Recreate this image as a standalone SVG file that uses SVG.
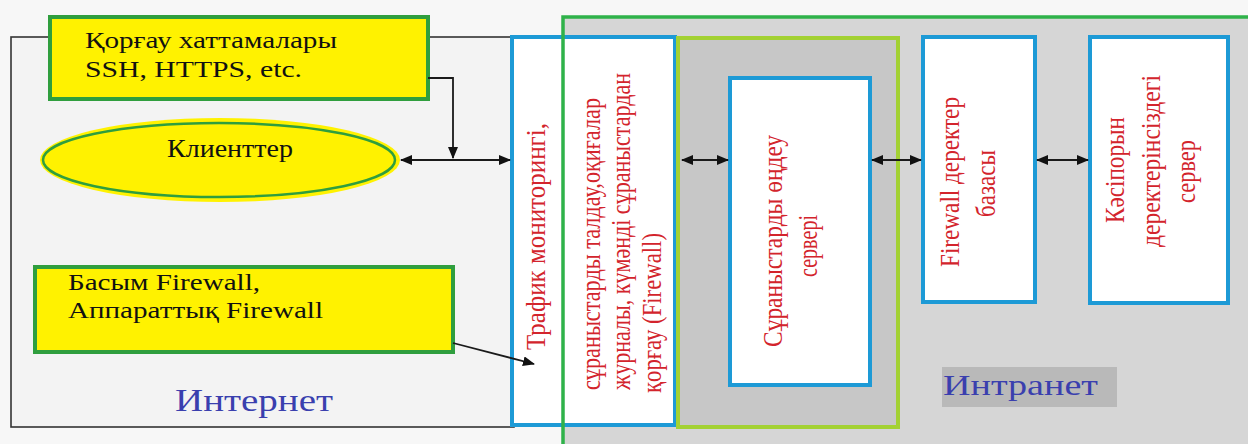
<svg xmlns="http://www.w3.org/2000/svg" width="1248" height="444" viewBox="0 0 1248 444">
<style>
.serif{font-family:"Liberation Serif","Times New Roman","DejaVu Serif",serif;}
.blk{fill:#111;}
.red{fill:#d3242c;}
.blu{fill:#3a3fae;}
.ybox{fill:#fff200;stroke:#2f9e3e;stroke-width:4;}
.bbox{fill:#ffffff;stroke:#1d9ad6;stroke-width:4;}
.conn{stroke:#1a1a1a;stroke-width:1.8;fill:none;}
.rot{font-size:27px;}
</style>
<defs>
<marker id="ah" viewBox="0 0 12 10" refX="11" refY="5" markerWidth="12" markerHeight="10" markerUnits="userSpaceOnUse" orient="auto-start-reverse">
<path d="M0,0 L12,5 L0,10 Z" fill="#111"/>
</marker>
</defs>
<rect x="0" y="0" width="1248" height="444" fill="#f7f7f7"/>

<g id="internet">
<rect x="11" y="37" width="503" height="390" fill="#f3f3f3" stroke="#333" stroke-width="1.6"/>
<text class="serif blu" x="175" y="411" font-size="31" textLength="158" lengthAdjust="spacingAndGlyphs">Интернет</text>
</g>

<g id="intranet">
<rect x="563" y="17" width="700" height="440" fill="#d6d6d6"/>
<rect x="942" y="367" width="175" height="40" fill="#b9b9b9"/>
<text class="serif blu" x="943" y="395" font-size="30" textLength="155" lengthAdjust="spacingAndGlyphs">Интранет</text>
</g>

<g id="protocols">
<rect class="ybox" x="50" y="17" width="378" height="82"/>
<text class="serif blk" x="85" y="48" font-size="24" textLength="252" lengthAdjust="spacingAndGlyphs">Қорғау хаттамалары</text>
<text class="serif blk" x="85" y="77" font-size="24" textLength="217" lengthAdjust="spacingAndGlyphs">SSH, HTTPS, etc.</text>
</g>

<g id="clients">
<ellipse cx="220" cy="160" rx="180" ry="42" fill="#fff200"/>
<ellipse cx="219" cy="160" rx="176" ry="37" fill="#fff200" stroke="#2f9e3e" stroke-width="2.5"/>
<text class="serif blk" x="167" y="157" font-size="25" textLength="126" lengthAdjust="spacingAndGlyphs">Клиенттер</text>
</g>

<g id="firewall-hw">
<rect class="ybox" x="35" y="267" width="418" height="85"/>
<text class="serif blk" x="68" y="290" font-size="23" textLength="192" lengthAdjust="spacingAndGlyphs">Басым Firewall,</text>
<text class="serif blk" x="68" y="318" font-size="23" textLength="255" lengthAdjust="spacingAndGlyphs">Аппараттық Firewall</text>
</g>

<g id="traffic-monitor">
<rect class="bbox" x="512" y="37" width="163" height="388"/>
<text class="serif red rot" transform="translate(545,350) rotate(-90)" textLength="227" lengthAdjust="spacingAndGlyphs">Трафик мониторингі,</text>
<text class="serif red rot" transform="translate(600,390) rotate(-90)" textLength="292" lengthAdjust="spacingAndGlyphs">сұраныстарды талдау,оқиғалар</text>
<text class="serif red rot" transform="translate(630,390) rotate(-90)" textLength="317" lengthAdjust="spacingAndGlyphs">журналы, күмәнді сұраныстардан</text>
<text class="serif red rot" transform="translate(661,393) rotate(-90)" textLength="160" lengthAdjust="spacingAndGlyphs">қорғау (Firewall)</text>
</g>

<rect x="563" y="17" width="700" height="440" fill="none" stroke="#2fb24a" stroke-width="3.5"/>

<g id="dmz">
<rect x="678" y="38" width="220" height="389" fill="#c7c7c7" stroke="#a3d133" stroke-width="4"/>
</g>

<g id="request-server">
<rect class="bbox" x="730" y="78" width="140" height="307"/>
<text class="serif red rot" transform="translate(782,347) rotate(-90)" textLength="212" lengthAdjust="spacingAndGlyphs">Сұраныстарды өңдеу</text>
<text class="serif red rot" transform="translate(817,277) rotate(-90)" textLength="62" lengthAdjust="spacingAndGlyphs">сервері</text>
</g>

<g id="firewall-db">
<rect class="bbox" x="923" y="37" width="112" height="265"/>
<text class="serif red rot" transform="translate(959,267) rotate(-90)" textLength="170" lengthAdjust="spacingAndGlyphs">Firewall деректер</text>
<text class="serif red rot" transform="translate(995,217) rotate(-90)" textLength="67" lengthAdjust="spacingAndGlyphs">базасы</text>
</g>

<g id="enterprise-server">
<rect class="bbox" x="1090" y="37" width="138" height="266"/>
<text class="serif red rot" transform="translate(1124,223) rotate(-90)" textLength="106" lengthAdjust="spacingAndGlyphs">Кәсіпорын</text>
<text class="serif red rot" transform="translate(1160,247) rotate(-90)" textLength="172" lengthAdjust="spacingAndGlyphs">деректерінсіздегі</text>
<text class="serif red rot" transform="translate(1195,203) rotate(-90)" textLength="63" lengthAdjust="spacingAndGlyphs">сервер</text>
</g>

<g id="connectors">
<path class="conn" d="M428,78 H453 V158" marker-end="url(#ah)"/>
<path class="conn" d="M401,160 H510" marker-start="url(#ah)" marker-end="url(#ah)"/>
<path class="conn" d="M682,160 H728" marker-start="url(#ah)" marker-end="url(#ah)"/>
<path class="conn" d="M872,160 H921" marker-start="url(#ah)" marker-end="url(#ah)"/>
<path class="conn" d="M1037,160 H1088" marker-start="url(#ah)" marker-end="url(#ah)"/>
<path class="conn" d="M453,343 L534,364" marker-end="url(#ah)"/>
</g>
</svg>
